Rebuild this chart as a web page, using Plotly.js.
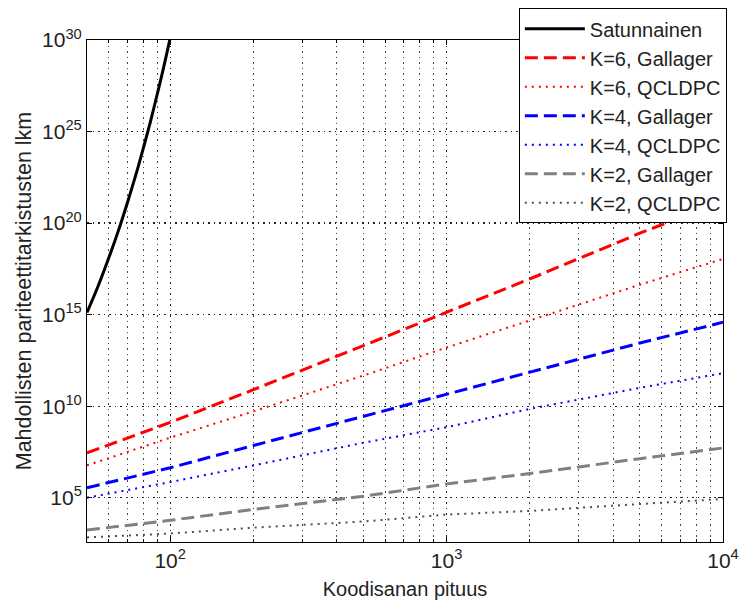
<!DOCTYPE html>
<html>
<head>
<meta charset="utf-8">
<script src="https://cdn.plot.ly/plotly-3.0.1.min.js"></script>
<style>
  html, body { margin: 0; padding: 0; background: #fff; }
  #chart { width: 740px; height: 603px; }
</style>
</head>
<body>
<div id="chart"></div>
<script>
// Code word length (x) for the K-series
const codeLength = [50, 100, 200, 500, 1000, 2000, 5000, 10000];
// Code word length for the random curve
const randomLength = [50, 55, 60, 65, 70, 75, 80, 85, 90, 95, 100];

// Number of possible parity-check matrices
const satunnainen = [1.3e15, 4.0e16, 1.3e18, 4.0e19, 1.3e21, 4.0e22, 1.3e24, 4.0e25, 1.3e27, 4.0e28, 1.3e30];
const k6Gallager = [2.8e7, 1.3e9, 7.9e10, 2.0e13, 1.3e15, 8.9e16, 2.8e19, 1.6e21];
const k6Qcldpc   = [5.8e6, 1.9e8, 5.2e9, 4.7e11, 1.6e13, 5.0e14, 4.3e16, 1.1e18];
const k4Gallager = [3.5e5, 4.3e6, 7.1e7, 2.8e9, 4.8e10, 7.1e11, 2.8e13, 3.8e14];
const k4Qcldpc   = [1.0e5, 7.1e5, 5.8e6, 1.0e8, 7.1e8, 7.1e9, 1.0e11, 6.3e11];
const k2Gallager = [1.7e3, 5.8e3, 2.3e4, 1.2e5, 5.6e5, 2.1e6, 1.35e7, 5.2e7];
const k2Qcldpc   = [680, 1.1e3, 2.3e3, 5.0e3, 1.2e4, 1.9e4, 4.5e4, 8.5e4];

const seriesNames = ['Satunnainen', 'K=6, Gallager', 'K=6, QCLDPC', 'K=4, Gallager', 'K=4, QCLDPC', 'K=2, Gallager', 'K=2, QCLDPC'];

const xMajorTicks = [100, 1000, 10000];
const xMajorLabels = ['10<sup>2</sup>', '10<sup>3</sup>', '10<sup>4</sup>'];
const xMinorTicks = [50, 60, 70, 80, 90, 200, 300, 400, 500, 600, 700, 800, 900, 2000, 3000, 4000, 5000, 6000, 7000, 8000, 9000];
const yTicks = [1e5, 1e10, 1e15, 1e20, 1e25, 1e30];
const yLabels = ['10<sup>5</sup>', '10<sup>10</sup>', '10<sup>15</sup>', '10<sup>20</sup>', '10<sup>25</sup>', '10<sup>30</sup>'];

const DASH = '13px,6px';
const DOT = '2px,5px';
const GRIDDASH = '1.5px,4px';

const traces = [
  {x: randomLength, y: satunnainen, name: seriesNames[0], line: {color: '#000000', width: 3, dash: 'solid', shape: 'spline'}},
  {x: codeLength, y: k6Gallager, name: seriesNames[1], line: {color: '#ff0000', width: 3, dash: DASH}},
  {x: codeLength, y: k6Qcldpc, name: seriesNames[2], line: {color: '#ff0000', width: 2, dash: DOT}},
  {x: codeLength, y: k4Gallager, name: seriesNames[3], line: {color: '#0000ff', width: 3, dash: DASH}},
  {x: codeLength, y: k4Qcldpc, name: seriesNames[4], line: {color: '#0000ff', width: 2, dash: DOT}},
  {x: codeLength, y: k2Gallager, name: seriesNames[5], line: {color: '#808080', width: 3, dash: DASH}},
  {x: codeLength, y: k2Qcldpc, name: seriesNames[6], line: {color: '#505050', width: 2, dash: DOT}}
].map(t => Object.assign({type: 'scatter', mode: 'lines'}, t));

const FONT = 'Liberation Sans, Arial, sans-serif';

const layout = {
  width: 740, height: 603,
  paper_bgcolor: '#ffffff', plot_bgcolor: '#ffffff',
  margin: {l: 87, r: 16.5, t: 40, b: 61.3, autoexpand: false},
  font: {family: FONT, size: 20, color: '#222'},
  showlegend: true,
  legend: {
    x: 0.679, xanchor: 'left', y: 1.063, yanchor: 'top',
    bgcolor: '#ffffff', bordercolor: '#000000', borderwidth: 1,
    font: {family: FONT, size: 20, color: '#222'},
    itemwidth: 60
  },
  xaxis: {
    type: 'log', range: [Math.log10(50), 4], automargin: false,
    tickmode: 'array', tickvals: xMajorTicks, ticktext: xMajorLabels,
    ticks: 'inside', ticklen: 5, tickcolor: '#000',
    showline: true, linecolor: '#000', linewidth: 1, mirror: 'allticks',
    showgrid: true, gridcolor: '#222', griddash: GRIDDASH, gridwidth: 1.2,
    zeroline: false,
    tickfont: {family: FONT, size: 21, color: '#222'},
    minor: {tickmode: 'array', tickvals: xMinorTicks, ticks: 'inside', ticklen: 3, tickcolor: '#000',
            showgrid: true, gridcolor: '#444', griddash: GRIDDASH, gridwidth: 1},
    title: {text: 'Koodisanan pituus', font: {family: FONT, size: 20, color: '#222'}, standoff: 10}
  },
  yaxis: {
    type: 'log', range: [2.58, 30], automargin: false,
    tickmode: 'array', tickvals: yTicks, ticktext: yLabels,
    ticks: 'inside', ticklen: 5, tickcolor: '#000',
    showline: true, linecolor: '#000', linewidth: 1, mirror: 'allticks',
    showgrid: true, gridcolor: '#222', griddash: GRIDDASH, gridwidth: 1.2,
    zeroline: false,
    tickfont: {family: FONT, size: 21, color: '#222'},
    title: {text: 'Mahdollisten pariteettitarkistusten lkm', font: {family: FONT, size: 21.5, color: '#222'}, standoff: 4}
  }
};

Plotly.newPlot('chart', traces, layout, {displayModeBar: false, staticPlot: true});
</script>
</body>
</html>
